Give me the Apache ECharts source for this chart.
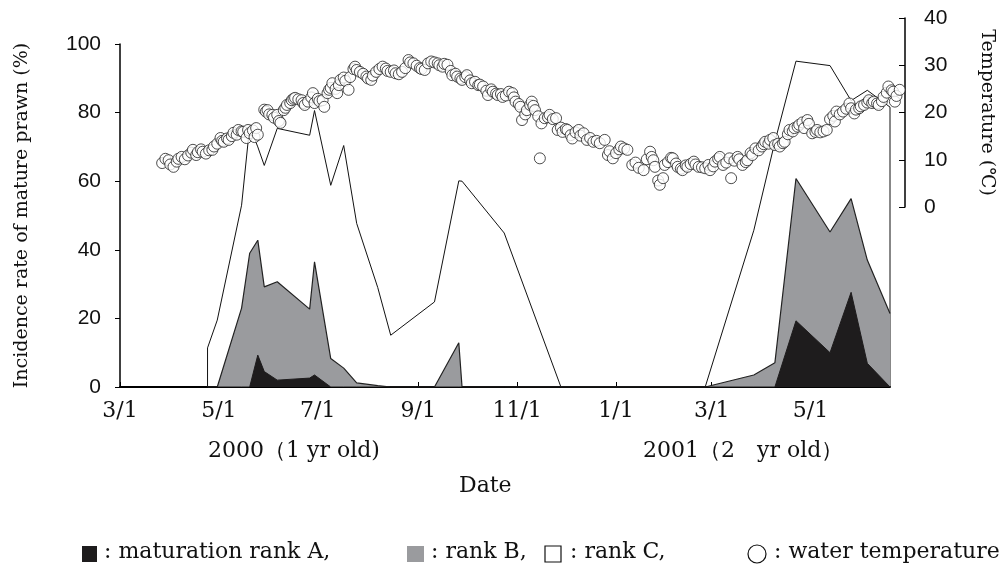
<!DOCTYPE html>
<html>
<head>
<meta charset="utf-8">
<script src="https://cdn.jsdelivr.net/npm/echarts@6/dist/echarts.min.js"></script>
<style>
  html, body { margin: 0; padding: 0; background: #fff; }
  #chart { width: 1004px; height: 572px; }
</style>
</head>
<body>
<div id="chart"></div>
<script>
// Sampling dates of the prawn maturation survey
const sampleDates = [
  '2000-04-24', '2000-04-30', '2000-05-15', '2000-05-20', '2000-05-25', '2000-05-29',
  '2000-06-06', '2000-06-26', '2000-06-29', '2000-07-09', '2000-07-17', '2000-07-25',
  '2000-08-07', '2000-08-15', '2000-09-11', '2000-09-26', '2000-09-28', '2000-10-24',
  '2000-11-28', '2001-02-25', '2001-03-27', '2001-04-09', '2001-04-22', '2001-05-13',
  '2001-05-26', '2001-06-05', '2001-06-19'
];
// Incidence (%) of each maturation rank on those dates
const rankA = [0, 0, 0, 0, 9.3, 4.5, 2, 2.6, 3.5, 0, 0, 0, 0, 0, 0, 0, 0, 0, 0, 0, 0, 0, 19.3, 10, 27.6, 6.9, 0];
const rankB = [0, 0, 23, 39, 33.5, 24.7, 28.7, 20.1, 33, 8.3, 5.5, 1.2, 0.4, 0, 0, 12.9, 0, 0, 0, 0, 3.5, 7.1, 41.5, 35.2, 27.3, 30.1, 21.4];
const rankC = [11.4, 19.5, 30, 37, 27.2, 35.4, 44.7, 50.7, 44.1, 50.5, 64.9, 46.5, 28.6, 15.1, 24.8, 47.2, 60, 44.9, 0, 0, 42.2, 64.4, 34.2, 48.5, 28.6, 49.5, 60.2];

// Water temperature readings: [day counted from 1 Mar 2000, °C]
const waterTemp = [
  [26, 9.3], [28, 10.2], [30, 9.9], [31, 9.0], [33, 8.5], [35, 9.6], [36, 10.2], [38, 10.6], [40, 10.1], [42, 10.9],
  [44, 11.5], [45, 12.1], [47, 11.0], [48, 11.6], [50, 12.2], [51, 11.7], [53, 11.3], [55, 12.0], [57, 12.1], [58, 12.8],
  [60, 13.4], [62, 14.6], [63, 14.0], [64, 13.8], [66, 14.5], [67, 14.2], [69, 15.0], [70, 15.7], [72, 15.3], [73, 16.3],
  [75, 16.0], [76, 15.9], [78, 14.6], [79, 16.3], [80, 15.6], [82, 16.2], [83, 14.8], [84, 16.7], [85, 15.3],
  [89, 20.6], [90, 20.2], [91, 20.5], [92, 19.6], [94, 19.5], [95, 18.9], [97, 19.5], [98, 18.2], [99, 17.8], [101, 20.5],
  [102, 21.0], [103, 21.6], [105, 22.0], [106, 22.6], [107, 22.9], [108, 23.1], [110, 22.8], [112, 22.6], [113, 22.0], [114, 21.6],
  [116, 22.3], [118, 23.2], [119, 24.1], [120, 22.0], [122, 22.9], [123, 22.4], [125, 22.6], [126, 21.2], [128, 24.1], [129, 24.8],
  [130, 25.2], [131, 26.2], [133, 25.0], [134, 24.1], [135, 25.8], [136, 26.9], [138, 27.4], [139, 26.7], [141, 24.8], [142, 27.5],
  [144, 29.2], [145, 29.7], [146, 29.0], [148, 28.6], [150, 28.2], [152, 27.6], [153, 27.2], [155, 26.9], [156, 27.8], [158, 28.6],
  [160, 29.2], [162, 29.7], [164, 29.3], [165, 28.8], [167, 28.6], [169, 28.9], [170, 28.3], [172, 28.1], [174, 28.6], [176, 29.4],
  [178, 31.1], [179, 30.6], [181, 30.4], [183, 29.9], [185, 29.4], [186, 29.2], [188, 29.0], [190, 30.4], [192, 30.8], [194, 30.6],
  [196, 30.4], [197, 30.0], [199, 29.7], [200, 30.3], [202, 30.1], [204, 28.8], [205, 27.9], [207, 28.2], [208, 27.6], [210, 27.2],
  [211, 26.9], [213, 27.5], [214, 27.9], [216, 26.8], [217, 26.2], [219, 26.5], [221, 25.8], [222, 25.9], [224, 25.5], [226, 24.6],
  [227, 23.7], [229, 24.9], [230, 24.4], [232, 24.0], [233, 23.7], [235, 23.9], [236, 23.3], [238, 23.6], [240, 24.4], [242, 24.1],
  [243, 23.2], [244, 22.3], [246, 21.8], [247, 21.2], [248, 18.4], [250, 19.6], [251, 20.5], [253, 21.6], [254, 22.3], [255, 21.4],
  [256, 20.5], [258, 19.2], [259, 10.3], [260, 17.7], [262, 18.8], [264, 19.0], [265, 19.5], [267, 18.6], [269, 18.8], [270, 16.3],
  [272, 16.8], [273, 15.9], [275, 16.5], [276, 16.3], [278, 15.2], [279, 14.5], [281, 15.8], [283, 16.3], [284, 15.1], [286, 15.6],
  [288, 14.2], [290, 14.6], [292, 13.8], [294, 14.0], [296, 13.5], [299, 14.2], [301, 11.0], [302, 11.8], [304, 10.3], [306, 11.4],
  [308, 12.2], [309, 12.8], [311, 12.4], [313, 12.1], [316, 8.9], [318, 9.4], [320, 8.3], [323, 7.8], [325, 10.1], [327, 11.7],
  [328, 10.6], [329, 9.9], [330, 8.5], [332, 5.6], [333, 4.7], [335, 6.1], [336, 8.9], [338, 9.5], [340, 10.4], [341, 10.3],
  [343, 9.2], [344, 8.5], [346, 8.1], [347, 7.8], [349, 8.8], [350, 8.5], [352, 9.1], [354, 9.6], [355, 9.0], [357, 8.5],
  [359, 8.4], [361, 8.2], [363, 8.9], [364, 7.8], [366, 8.6], [367, 9.6], [369, 10.2], [370, 10.6], [372, 8.9], [374, 9.4],
  [376, 10.3], [377, 6.1], [379, 9.8], [381, 10.6], [382, 10.1], [384, 8.9], [386, 9.5], [387, 9.9], [389, 11.4], [390, 11.0],
  [392, 12.4], [394, 12.0], [396, 12.8], [397, 13.3], [398, 13.8], [400, 13.4], [401, 14.2], [403, 14.6], [404, 13.1], [406, 13.4],
  [407, 12.8], [409, 13.5], [410, 13.8], [412, 15.4], [413, 16.3], [415, 16.0], [416, 16.7], [418, 17.0], [419, 17.4], [421, 17.9],
  [422, 16.7], [424, 18.4], [425, 17.6], [427, 15.6], [429, 15.9], [430, 16.3], [432, 15.8], [434, 16.0], [436, 16.3], [438, 18.6],
  [440, 19.3], [441, 18.1], [442, 20.2], [444, 19.6], [446, 20.2], [448, 20.8], [450, 21.9], [451, 20.9], [453, 19.8], [454, 20.6],
  [456, 20.9], [457, 21.3], [459, 21.6], [461, 22.1], [462, 22.6], [464, 22.0], [465, 22.3], [467, 21.9], [468, 21.6], [470, 22.4],
  [471, 23.3], [473, 24.2], [474, 25.5], [476, 24.7], [477, 24.4], [478, 22.3], [479, 23.5], [481, 24.8]
];

// Axis ticks at the first day of every second month
const tickDates = ['2000-03-01', '2000-05-01', '2000-07-01', '2000-09-01', '2000-11-01', '2001-01-01', '2001-03-01', '2001-05-01'];
const axisEndDate = '2001-06-19';

const DAY = 86400000;
const origin = Date.UTC(2000, 2, 1);
function dayOf(s) {
  const p = s.split('-').map(Number);
  return Math.round((Date.UTC(p[0], p[1] - 1, p[2]) - origin) / DAY);
}
function labelOf(d) {
  const t = new Date(origin + d * DAY);
  return (t.getUTCMonth() + 1) + '/' + t.getUTCDate();
}

const sampleDay = sampleDates.map(dayOf);
const tickDay = tickDates.map(dayOf);
const xMax = dayOf(axisEndDate);

// cumulative curves: A, A+B, A+B+C
const cumA = rankA.map(v => v);
const cumAB = rankA.map((v, i) => v + rankB[i]);
const cumABC = cumAB.map((v, i) => v + rankC[i]);

const lineA = sampleDay.map((d, i) => [d, cumA[i]]);
const lineAB = sampleDay.map((d, i) => [d, cumAB[i]]);
const lineABC = sampleDay.map((d, i) => [d, cumABC[i]]);
// close the rank C outline down to the baseline at both ends
lineABC.unshift([sampleDay[0], 0]);
lineABC.push([sampleDay[sampleDay.length - 1], 0]);

// layout
const G1 = { left: 120, top: 44, width: 770, height: 343 };
const G2 = { left: 120, top: 18, width: 785, height: 189 };
const xMax2 = xMax * G2.width / G1.width;

const SERIF = '"DejaVu Serif", "Liberation Serif", serif';
const SANS = '"Liberation Sans", Arial, sans-serif';

const chart = echarts.init(document.getElementById('chart'), null, { renderer: 'canvas' });

const option = {
  animation: false,
  backgroundColor: '#ffffff',
  grid: [
    Object.assign({ containLabel: false }, G1),
    Object.assign({ containLabel: false }, G2)
  ],
  xAxis: [
    {
      type: 'value', gridIndex: 0, min: 0, max: xMax,
      axisLine: { show: true, onZero: false, lineStyle: { color: '#000', width: 2 } },
      axisTick: { show: true, inside: true, length: 5, customValues: tickDay, lineStyle: { color: '#000', width: 1 } },
      axisLabel: {
        customValues: tickDay, formatter: v => labelOf(v),
        fontFamily: SERIF, fontSize: 22, color: '#111', margin: 13
      },
      splitLine: { show: false }
    },
    {
      type: 'value', gridIndex: 1, min: 0, max: xMax2, show: false
    }
  ],
  yAxis: [
    {
      type: 'value', gridIndex: 0, min: 0, max: 100, interval: 20,
      axisLine: { show: true, onZero: false, lineStyle: { color: '#000', width: 1.5 } },
      axisTick: { show: true, inside: false, length: 5, lineStyle: { color: '#000' } },
      axisLabel: { fontFamily: SANS, fontSize: 21, color: '#111', margin: 19 },
      splitLine: { show: false },
      name: 'Incidence rate of mature prawn (%)',
      nameLocation: 'middle', nameRotate: 90, nameGap: 88,
      nameTextStyle: { fontFamily: SERIF, fontSize: 19, color: '#111' }
    },
    {
      type: 'value', gridIndex: 1, position: 'right', min: 0, max: 40, interval: 10,
      axisLine: { show: true, onZero: false, lineStyle: { color: '#000', width: 1.5 } },
      axisTick: { show: true, inside: true, length: 6, lineStyle: { color: '#000' } },
      axisLabel: { fontFamily: SANS, fontSize: 21, color: '#111', margin: 19 },
      splitLine: { show: false },
      name: 'Temperature (℃)',
      nameLocation: 'middle', nameRotate: -90, nameGap: 72,
      nameTextStyle: { fontFamily: SERIF, fontSize: 19, color: '#111' }
    }
  ],
  series: [
    {
      name: 'rank C', type: 'line', xAxisIndex: 0, yAxisIndex: 0,
      data: lineABC, symbol: 'none', z: 2,
      lineStyle: { color: '#111', width: 1 }
    },
    {
      name: 'rank B', type: 'line', xAxisIndex: 0, yAxisIndex: 0,
      data: lineAB, symbol: 'none', z: 3,
      lineStyle: { color: '#222', width: 1.2 },
      areaStyle: { color: '#9a9b9e', opacity: 1 }
    },
    {
      name: 'rank A', type: 'line', xAxisIndex: 0, yAxisIndex: 0,
      data: lineA, symbol: 'none', z: 4,
      lineStyle: { color: '#1e1c1d', width: 1 },
      areaStyle: { color: '#1e1c1d', opacity: 1 }
    },
    {
      name: 'water temperature', type: 'scatter', xAxisIndex: 1, yAxisIndex: 1,
      data: waterTemp, symbol: 'circle', symbolSize: 11, z: 5,
      itemStyle: { color: '#fff', borderColor: '#222', borderWidth: 1 }
    }
  ],
  graphic: [
    { type: 'text', left: 208, top: 440, style: { text: '2000（1 yr old)', font: '22px ' + SERIF, fill: '#111' } },
    { type: 'text', left: 643, top: 440, style: { text: '2001（2　yr old）', font: '22px ' + SERIF, fill: '#111' } },
    { type: 'text', left: 459, top: 475, style: { text: 'Date', font: '22px ' + SERIF, fill: '#111' } },
    // legend
    { type: 'rect', shape: { x: 82, y: 546, width: 15, height: 16 }, style: { fill: '#1e1c1d' } },
    { type: 'text', left: 104, top: 541, style: { text: ': maturation rank A,', font: '22px ' + SERIF, fill: '#111' } },
    { type: 'rect', shape: { x: 407, y: 546, width: 17, height: 16 }, style: { fill: '#9a9b9e' } },
    { type: 'text', left: 431, top: 541, style: { text: ': rank B,', font: '22px ' + SERIF, fill: '#111' } },
    { type: 'rect', shape: { x: 545, y: 546, width: 16, height: 16 }, style: { fill: '#fff', stroke: '#111', lineWidth: 1.2 } },
    { type: 'text', left: 570, top: 541, style: { text: ': rank C,', font: '22px ' + SERIF, fill: '#111' } },
    { type: 'circle', shape: { cx: 757, cy: 554, r: 9 }, style: { fill: '#fff', stroke: '#111', lineWidth: 1.2 } },
    { type: 'text', left: 774, top: 541, style: { text: ': water temperature', font: '22px ' + SERIF, fill: '#111' } }
  ]
};

chart.setOption(option);
</script>
</body>
</html>
